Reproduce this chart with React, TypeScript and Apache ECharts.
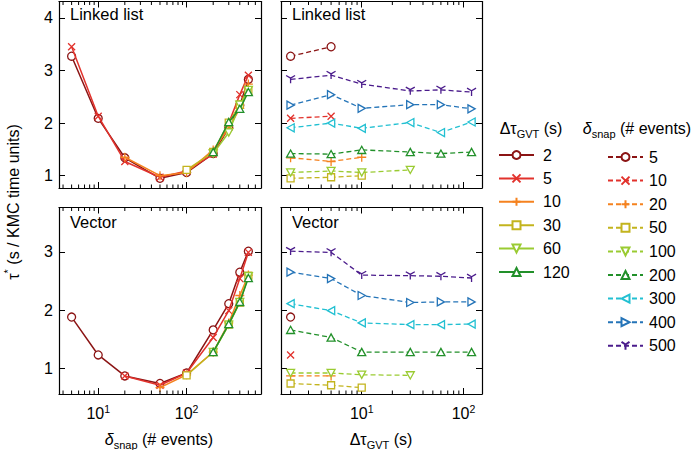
import React, { useEffect, useRef } from "react";
import * as echarts from "echarts";

// ---------- data ----------
const deltaSnap = [5, 10, 20, 50, 100, 200, 300, 400, 500]; // # events
const deltaGVT = [2, 5, 10, 30, 60, 120]; // s
const topYTicks = [1, 2, 3, 4];
const bottomYTicks = [1, 2, 3];
const snapMinorTicks = [4, 5, 6, 7, 8, 9, 20, 30, 40, 50, 60, 70, 80, 90, 200, 300, 400, 500, 600];
const gvtMinorTicks = [2, 3, 4, 5, 6, 7, 8, 9, 20, 30, 40, 50, 60, 70, 80, 90];

// τ* for Linked list: one row per δsnap, one column per ΔτGVT
const llSnap5 = [3.27, 3.45, null, null, null, null];
const llSnap10 = [2.09, 2.13, null, null, null, null];
const llSnap20 = [1.34, 1.27, 1.35, null, null, null];
const llSnap50 = [0.95, 0.97, 1.0, null, null, null];
const llSnap100 = [1.06, 1.09, 1.06, 1.11, null, null];
const llSnap200 = [1.42, 1.41, 1.49, 1.45, 1.42, 1.45];
const llSnap300 = [1.91, 2.0, 1.9, 2.01, 1.82, 2.02];
const llSnap400 = [2.34, 2.54, 2.28, 2.35, 2.35, 2.27];
const llSnap500 = [2.83, 2.91, 2.74, 2.61, 2.63, 2.59];

// τ* for Vector
const vecSnap5 = [1.88, null, null, null, null, null];
const vecSnap10 = [1.23, null, null, null, null, null];
const vecSnap20 = [0.87, 0.87, null, null, null, null];
const vecSnap50 = [0.74, 0.71, 0.67, null, null, null];
const vecSnap100 = [0.92, 0.92, 0.89, 0.88, null, null];
const vecSnap200 = [1.66, 1.53, 1.28, 1.28, 1.28, 1.28];
const vecSnap300 = [2.11, 1.99, 1.78, 1.75, 1.75, 1.76];
const vecSnap400 = [2.65, 2.54, 2.25, 2.13, 2.14, 2.14];
const vecSnap500 = [3.01, 2.99, 2.6, 2.59, 2.58, 2.55];

const linkedList = [llSnap5, llSnap10, llSnap20, llSnap50, llSnap100, llSnap200, llSnap300, llSnap400, llSnap500];
const vector = [vecSnap5, vecSnap10, vecSnap20, vecSnap50, vecSnap100, vecSnap200, vecSnap300, vecSnap400, vecSnap500];

// ---------- styles ----------
const F = "'Liberation Sans', Arial, Helvetica, sans-serif";
const palette = ["#8b1414", "#e2322c", "#f5821f", "#c3b41e", "#9acb32", "#22902a", "#22c0d2", "#2474b8", "#4b1c8c"];
const sym = [
  { s: "circle", size: 8 },
  { s: "path://M0,0L10,10M10,0L0,10", size: 7 },
  { s: "path://M5,0L5,10M0,5L10,5", size: 9 },
  { s: "rect", size: 7 },
  { s: "path://M0,0L10,0L5,9Z", size: 8 },
  { s: "path://M5,0L10,9L0,9Z", size: 8 },
  { s: "path://M0,5L9,0L9,10Z", size: 8 },
  { s: "path://M0,0L9,5L0,10Z", size: 8 },
  { s: "path://M5,5L5,10M5,5L0.67,2.5M5,5L9.33,2.5", size: 9 },
];

const supRich = {
  b: { fontSize: 16, fontFamily: F, color: "#000", lineHeight: 20 },
  sup: { fontSize: 10.5, fontFamily: F, color: "#000", lineHeight: 10, verticalAlign: "top" },
};

function xAxes(gridIndex: number, min: number, max: number, labels: boolean) {
  const base = {
    type: "log",
    logBase: 10,
    gridIndex,
    min,
    max,
    axisLine: { show: true, onZero: false, lineStyle: { color: "#000", width: 1.2 } },
    axisTick: { show: true, inside: true, length: 6, lineStyle: { color: "#000", width: 1 } },
    splitLine: { show: false },
    minorTick: { show: false },
  };
  return [
    {
      ...base,
      position: "bottom",
      axisLabel: {
        show: labels,
        showMinLabel: false,
        showMaxLabel: false,
        margin: 9,
        formatter: (v: number) => `{b|10}{sup|${Math.round(Math.log10(v))}}`,
        rich: supRich,
      },
    },
    { ...base, position: "top", axisLabel: { show: false } },
  ];
}

function yAxes(gridIndex: number, min: number, max: number, ticks: number[], labels: boolean) {
  const base = {
    type: "value",
    gridIndex,
    min,
    max,
    axisLine: { show: true, onZero: false, lineStyle: { color: "#000", width: 1.2 } },
    axisTick: { show: true, inside: true, length: 6, customValues: ticks, lineStyle: { color: "#000", width: 1 } },
    splitLine: { show: false },
  };
  return [
    {
      ...base,
      position: "left",
      axisLabel: { show: labels, customValues: ticks, fontSize: 16, fontFamily: F, color: "#000", margin: 6 },
    },
    { ...base, position: "right", axisLabel: { show: false } },
  ];
}

function gvtSeries(rows: (number | null)[][], g: number) {
  return deltaGVT.map((gvt, j) => ({
    name: "g" + gvt,
    type: "line",
    xAxisIndex: g * 2,
    yAxisIndex: g * 2,
    data: deltaSnap
      .map((s, i) => (rows[i][j] == null ? null : [s, rows[i][j]]))
      .filter((d) => d !== null),
    symbol: sym[j].s,
    symbolSize: sym[j].size,
    symbolKeepAspect: true,
    showAllSymbol: true,
    clip: false,
    z: 3 + j,
    lineStyle: { color: palette[j], width: 1.5 },
    itemStyle: { color: "#fff", borderColor: palette[j], borderWidth: 1.3 },
    emphasis: { disabled: true },
  }));
}

function snapSeries(rows: (number | null)[][], g: number) {
  return deltaSnap.map((s, i) => ({
    name: "s" + s,
    type: "line",
    xAxisIndex: g * 2,
    yAxisIndex: g * 2,
    data: deltaGVT
      .map((gvt, j) => (rows[i][j] == null ? null : [gvt, rows[i][j]]))
      .filter((d) => d !== null),
    symbol: sym[i].s,
    symbolSize: sym[i].size,
    symbolKeepAspect: true,
    showAllSymbol: true,
    clip: false,
    z: 3 + i,
    lineStyle: { color: palette[i], width: 1.3, type: [5, 3] },
    itemStyle: { color: "#fff", borderColor: palette[i], borderWidth: 1.3 },
    emphasis: { disabled: true },
  }));
}

function minorTicks(values: number[], g: number, yRef: number) {
  return {
    type: "custom",
    xAxisIndex: g * 2,
    yAxisIndex: g * 2,
    silent: true,
    z: 10,
    data: values.map((v) => [v, yRef]),
    renderItem: (params: any, api: any) => {
      const x = api.coord([api.value(0), api.value(1)])[0];
      const cs = params.coordSys;
      const yb = cs.y + cs.height;
      const yt = cs.y;
      return {
        type: "group",
        children: [
          { type: "line", shape: { x1: x, y1: yb, x2: x, y2: yb - 3.5 }, style: { stroke: "#000", lineWidth: 1 } },
          { type: "line", shape: { x1: x, y1: yt, x2: x, y2: yt + 3.5 }, style: { stroke: "#000", lineWidth: 1 } },
        ],
      };
    },
  };
}

const txtRich = {
  a: { fontSize: 16, fontFamily: F, fill: "#000", lineHeight: 22 },
  i: { fontSize: 16, fontFamily: F, fontStyle: "italic", fill: "#000", lineHeight: 22 },
  sub: { fontSize: 11, fontFamily: F, fill: "#000", lineHeight: 11, verticalAlign: "bottom" },
  sup: { fontSize: 11, fontFamily: F, fill: "#000", lineHeight: 11, verticalAlign: "top" },
};

function label(text: string, x: number, y: number, align = "left", rotation = 0, size = 16) {
  return {
    type: "text",
    x,
    y,
    rotation,
    style: { text, rich: txtRich, align, verticalAlign: "middle", fontSize: size, fontFamily: F, fill: "#000" },
  };
}

export default function App() {
  const ref = useRef<HTMLDivElement>(null);
  useEffect(() => {
    if (!ref.current) return;
    const chart = echarts.init(ref.current, undefined, { renderer: "svg" });
    const grids = [
      { left: 59, top: 1.5, width: 202, height: 186.5 },
      { left: 281, top: 1.5, width: 201, height: 186.5 },
      { left: 59, top: 207.5, width: 202, height: 186.5 },
      { left: 281, top: 207.5, width: 201, height: 186.5 },
    ].map((g) => ({ ...g, outerBoundsMode: "none", containLabel: false }));

    const legendText = (pad: number) => ({ fontSize: 16, fontFamily: F, color: "#000", padding: [0, 0, 0, pad] });

    const option: any = {
      animation: false,
      backgroundColor: "#fff",
      grid: grids,
      xAxis: [
        ...xAxes(0, 3.6, 695, false),
        ...xAxes(1, 1.61, 152, false),
        ...xAxes(2, 3.6, 695, true),
        ...xAxes(3, 1.61, 152, true),
      ],
      yAxis: [
        ...yAxes(0, 0.766, 4.31, topYTicks, true),
        ...yAxes(1, 0.766, 4.31, topYTicks, false),
        ...yAxes(2, 0.56, 3.76, bottomYTicks, true),
        ...yAxes(3, 0.56, 3.76, bottomYTicks, false),
      ],
      legend: [
        {
          orient: "vertical",
          left: 493,
          top: 142,
          itemWidth: 35,
          itemHeight: 10,
          itemGap: 7.4,
          data: deltaGVT.map((g) => "g" + g),
          formatter: (n: string) => n.slice(1),
          textStyle: legendText(4),
          selectedMode: false,
        },
        {
          orient: "vertical",
          left: 602,
          top: 144,
          itemWidth: 35,
          itemHeight: 10,
          itemGap: 7.6,
          data: deltaSnap.map((s) => "s" + s),
          formatter: (n: string) => n.slice(1),
          textStyle: legendText(1),
          selectedMode: false,
        },
      ],
      graphic: [
        label("Linked list", 70, 14, "left", 0, 16.5),
        label("Linked list", 292, 14, "left", 0, 16.5),
        label("Vector", 70, 222, "left", 0, 16.5),
        label("Vector", 292, 222, "left", 0, 16.5),
        label("{a|Δτ}{sub|GVT}{a| (s)}", 531, 128, "center"),
        label("{i|δ}{sub|snap}{a| (# events)}", 637, 128, "center"),
        label("{i|δ}{sub|snap}{a| (# events)}", 159, 439, "center"),
        label("{a|Δτ}{sub|GVT}{a| (s)}", 381, 439, "center"),
        label("{a|τ}{sup|*}{a| (s / KMC time units)}", 13, 202, "center", Math.PI / 2),
      ],
      series: [
        ...gvtSeries(linkedList, 0),
        ...snapSeries(linkedList, 1),
        ...gvtSeries(vector, 2),
        ...snapSeries(vector, 3),
        minorTicks(snapMinorTicks, 0, 1),
        minorTicks(gvtMinorTicks, 1, 1),
        minorTicks(snapMinorTicks, 2, 1),
        minorTicks(gvtMinorTicks, 3, 1),
      ],
    };
    chart.setOption(option);
    return () => chart.dispose();
  }, []);
  return (
    <div
      ref={ref}
      style={{ position: "fixed", left: 0, top: 0, width: 699, height: 450, background: "#fff" }}
    />
  );
}
